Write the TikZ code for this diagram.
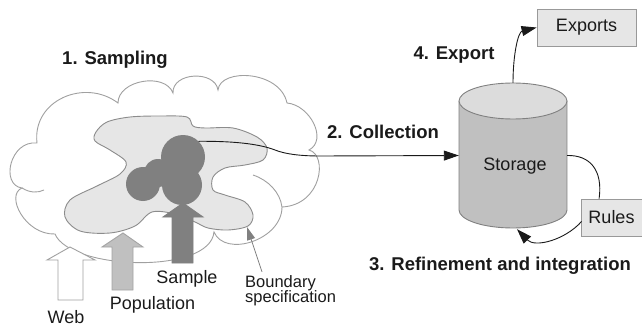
\documentclass[tikz,border=0pt]{standalone}
\usepackage{fontspec}
\setmainfont{Liberation Sans}
\usetikzlibrary{arrows.meta,calc}
\definecolor{cloudline}{HTML}{A0A0A0}
\definecolor{blobfill}{HTML}{E6E6E6}
\definecolor{blobline}{HTML}{8C8C8C}
\definecolor{darkgrey}{HTML}{808080}
\definecolor{midgrey}{HTML}{C0C0C0}
\definecolor{boxfill}{HTML}{E6E6E6}
\definecolor{boxline}{HTML}{999999}
\definecolor{cyltop}{HTML}{DCDCDC}
\definecolor{ink}{HTML}{1A1A1A}
\begin{document}
\begin{tikzpicture}[x=1pt,y=-1pt,
  cloud/.style={draw=cloudline, line width=0.9pt},
  steplabel/.style={font=\fontsize{18.5}{22}\selectfont\bfseries, text=ink, anchor=base, inner sep=0pt},
  plainlabel/.style={font=\fontsize{18}{21}\selectfont, text=ink, anchor=base, inner sep=0pt},
  smalllabel/.style={font=\fontsize{16.5}{19}\selectfont, text=ink, anchor=base west, inner sep=0pt},
  dot/.style={circle, fill=darkgrey, draw=none, inner sep=0pt},
  greybox/.style={draw=boxline, fill=boxfill, line width=0.9pt, inner sep=0pt,
    font=\fontsize{18}{21}\selectfont, text=ink},
  flow/.style={draw=ink, line width=0.9pt, -{Triangle[length=15pt,width=10pt]}},
  blockarrow/.style={line width=0.9pt, line join=miter}
]
\useasboundingbox (0,0) rectangle (642,326);

% the web: a cloud of bumps
\path[cloud, fill=white] (22,188)
  .. controls (0,185) and (10,140) .. (37,143)
  .. controls (32,100) and (85,78) .. (118,103)
  .. controls (118,80) and (165,72) .. (173,93)
  .. controls (172,72) and (215,70) .. (218,90)
  .. controls (220,68) and (280,70) .. (287,103)
  .. controls (310,105) and (328,140) .. (309,150)
  .. controls (328,155) and (322,205) .. (282,207)
  .. controls (282,240) and (225,258) .. (214,232)
  .. controls (210,275) and (70,270) .. (55,234)
  .. controls (25,235) and (5,195) .. (22,188) -- cycle;
% inner folds of the cloud
\draw[cloud] (22,188) .. controls (30,193) and (38,193) .. (44,190);
\draw[cloud] (253,175) .. controls (268,180) and (280,192) .. (282,207);

% the population
\draw[draw=blobline, fill=blobfill, line width=0.9pt]
  plot[smooth cycle, tension=0.55] coordinates {
  (96,132) (107,122) (130,117) (160,116) (187,117) (193,126) (205,128)
  (233,128) (257,137) (267,148) (263,160) (245,165) (225,168) (213,177)
  (213,190) (225,195) (245,202) (253,215) (248,226) (228,230) (208,228)
  (195,222) (175,214) (152,212) (135,226) (110,233) (80,231) (65,217)
  (70,200) (97,186) (120,174) (126,162) (110,150) (95,141)};

% the sample
\node[dot, minimum size=44pt] (c1) at (183,157) {};
\node[dot, minimum size=34pt] (c2) at (143,184) {};
\node[dot, minimum size=28pt] (c3) at (158,173) {};
\node[dot, minimum size=40pt] (c4) at (182,185) {};

% block arrows
\filldraw[blockarrow, draw=cloudline, fill=white]
  (70,247) -- (95,260) -- (83,260) -- (83,300) -- (58,300) -- (58,260) -- (47,260) -- cycle;
\filldraw[blockarrow, draw=midgrey!85!black, fill=midgrey]
  (123,233) -- (143,247) -- (133,247) -- (133,290) -- (112,290) -- (112,247) -- (102,247) -- cycle;
\filldraw[blockarrow, draw=darkgrey, fill=darkgrey]
  (183,203) -- (203,217) -- (193,217) -- (193,263) -- (172,263) -- (172,217) -- (163,217) -- cycle;

% labels of the sampling stage
\node[steplabel] (sampling) at (115,65) {1. Sampling};
\node[plainlabel] (web) at (66,323) {Web};
\node[plainlabel] (population) at (152.5,309) {Population};
\node[plainlabel] (sample) at (187,283) {Sample};
\node[smalllabel] (boundary) at (245,287) {Boundary};
\node[smalllabel] (specification) at (245,302) {specification};
\coordinate (boundary tip) at (247,227);
\draw[draw=darkgrey, line width=0.8pt, -{Triangle[length=13pt,width=8pt]}]
  ($(boundary.north west)+(17,-3)$) -- (boundary tip);

% storage cylinder
\fill[midgrey] (459,101) rectangle (567,210);
\fill[midgrey] (513,210) ellipse[x radius=54pt, y radius=18pt];
\draw[darkgrey, line width=0.9pt] (459,101) -- (459,210)
  arc[start angle=180, end angle=360, x radius=54pt, y radius=18pt] -- (567,101);
\filldraw[draw=darkgrey, fill=cyltop, line width=0.9pt] (513,101) ellipse[x radius=54pt, y radius=18pt];
\node[minimum width=108pt, minimum height=145pt, inner sep=0pt] (storage) at (513,155.5) {};
\node[plainlabel] (storagetext) at (515,170) {Storage};

% exports and rules
\node[greybox, minimum width=99pt, minimum height=37pt] (exports) at (586.5,27.5) {Exports};
\node[greybox, minimum width=61pt, minimum height=37pt] (rules) at (611.5,217.5) {Rules};

% stage labels
\node[steplabel] (collection) at (383,139) {2. Collection};
\node[steplabel] (export) at (454,60) {4. Export};
\node[steplabel] (refinement) at (500,270) {3. Refinement and integration};

% connectors
\draw[flow] (c1.north east) .. controls (240,141) and (262,145) .. (275,150)
  .. controls (285,154) and (300,156) .. (320,156) -- (storage.west);
\draw[flow] (storage.north) .. controls (513,55) and (518,32) .. (exports.west);
\draw[draw=ink, line width=0.9pt] (storage.east) .. controls (590,155) and (603,170)
  .. ($(rules.north west)!0.3!(rules.north east)$);
\draw[flow] ($(rules.west)+(1,4)$) .. controls (565,240) and (535,248) .. ($(storage.south)+(4,1)$);
\end{tikzpicture}
\end{document}
